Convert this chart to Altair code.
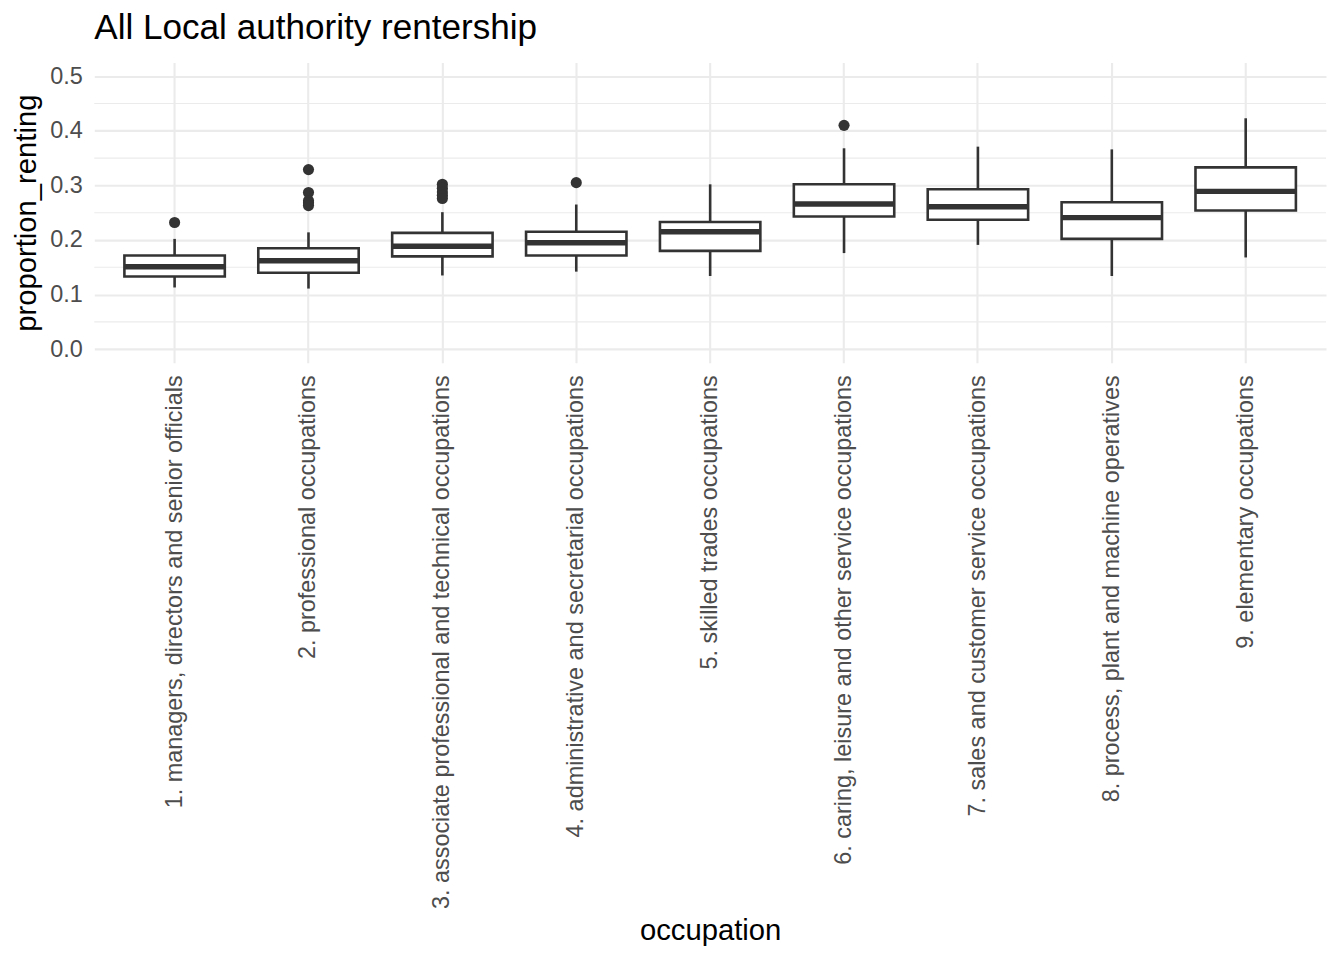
import altair as alt
import pandas as pd

occupations = [
    "1. managers, directors and senior officials",
    "2. professional occupations",
    "3. associate professional and technical occupations",
    "4. administrative and secretarial occupations",
    "5. skilled trades occupations",
    "6. caring, leisure and other service occupations",
    "7. sales and customer service occupations",
    "8. process, plant and machine operatives",
    "9. elementary occupations",
]
whisker_low = [0.113, 0.111, 0.135, 0.142, 0.134, 0.176, 0.191, 0.134, 0.168]
q1 = [0.133, 0.140, 0.170, 0.1715, 0.180, 0.243, 0.237, 0.202, 0.254]
median = [0.151, 0.162, 0.1885, 0.195, 0.215, 0.266, 0.261, 0.241, 0.289]
q3 = [0.1715, 0.185, 0.213, 0.215, 0.233, 0.302, 0.293, 0.269, 0.333]
whisker_high = [0.202, 0.214, 0.251, 0.265, 0.302, 0.368, 0.371, 0.366, 0.423]

outlier_occupation = [
    occupations[0],
    occupations[1], occupations[1], occupations[1], occupations[1], occupations[1],
    occupations[2], occupations[2], occupations[2], occupations[2], occupations[2],
    occupations[3],
    occupations[5],
]
outlier_value = [
    0.232,
    0.329, 0.287, 0.272, 0.268, 0.263,
    0.302, 0.295, 0.288, 0.282, 0.276,
    0.305,
    0.410,
]

y_major = [0.0, 0.1, 0.2, 0.3, 0.4, 0.5]
y_minor = [0.05, 0.15, 0.25, 0.35, 0.45]

FONT = "Liberation Sans"
DARK = "#333333"
GRID = "#EBEBEB"

stats = pd.DataFrame({
    "occupation": occupations,
    "lo": whisker_low,
    "q1": q1,
    "med": median,
    "q3": q3,
    "hi": whisker_high,
})
outliers = pd.DataFrame({"occupation": outlier_occupation, "value": outlier_value})
minor = pd.DataFrame({"v": y_minor})

xscale = alt.Scale(type="band", domain=occupations, paddingInner=0, paddingOuter=0.1)
yscale = alt.Scale(domain=[-0.025, 0.525], nice=False, zero=False)

xaxis = alt.Axis(
    title="occupation",
    labelAngle=270,
    labelAlign="right",
    labelBaseline="middle",
    labelFontSize=23.5,
    labelColor="#4D4D4D",
    labelFont=FONT,
    labelPadding=12,
    labelLimit=2000,
    ticks=False,
    tickSize=0,
    domain=False,
    grid=True,
    gridColor=GRID,
    gridWidth=2.1,
    bandPosition=0.5,
    titleFont=FONT,
    titleFontSize=29.3,
    titleFontWeight="normal",
    titleColor="black",
    titleBaseline="alphabetic",
    titleY=578.5,
)
yaxis = alt.Axis(
    title="proportion_renting",
    values=y_major,
    format=".1f",
    labelFontSize=23.5,
    labelColor="#4D4D4D",
    labelFont=FONT,
    labelPadding=12,
    ticks=False,
    tickSize=0,
    domain=False,
    grid=True,
    gridColor=GRID,
    gridWidth=2.1,
    titleFont=FONT,
    titleFontSize=29.3,
    titleFontWeight="normal",
    titleColor="black",
    titlePadding=8,
)

X = alt.X("occupation:N", scale=xscale, axis=xaxis, sort=occupations)

minor_grid = alt.Chart(minor).mark_rule(color=GRID, strokeWidth=1.05).encode(
    y=alt.Y("v:Q", scale=yscale, axis=yaxis)
)

whisk_lo = alt.Chart(stats).mark_rule(color=DARK, strokeWidth=2.6).encode(
    x=X,
    y=alt.Y("lo:Q", scale=yscale, axis=yaxis),
    y2="q1:Q",
)
whisk_hi = alt.Chart(stats).mark_rule(color=DARK, strokeWidth=2.6).encode(
    x=X,
    y=alt.Y("q3:Q", scale=yscale, axis=yaxis),
    y2="hi:Q",
)
boxes = alt.Chart(stats).mark_bar(
    width=alt.RelativeBandSize(0.75), fill="white", stroke=DARK, strokeWidth=2.6
).encode(
    x=X,
    y=alt.Y("q1:Q", scale=yscale, axis=yaxis),
    y2="q3:Q",
)
medians = alt.Chart(stats).mark_tick(
    color=DARK, opacity=1, size=100.7, thickness=5.4
).encode(
    x=X,
    y=alt.Y("med:Q", scale=yscale, axis=yaxis),
)
points = alt.Chart(outliers).mark_circle(color=DARK, opacity=1, size=125).encode(
    x=X,
    y=alt.Y("value:Q", scale=yscale, axis=yaxis),
)

chart = alt.layer(minor_grid, whisk_lo, whisk_hi, boxes, medians, points).properties(
    width=1235,
    height=301,
    title=alt.TitleParams(
        "All Local authority rentership",
        anchor="start",
        frame="group",
        font=FONT,
        fontSize=35.2,
        fontWeight="normal",
        color="black",
        offset=16,
    ),
    autosize=alt.AutoSizeParams(type="none"),
    padding={"left": 86.5, "top": 53.5, "right": 10, "bottom": 585},
    background="white",
).configure_view(stroke=None)

chart.save("out.html", embed_options={"renderer": "svg", "actions": False})
